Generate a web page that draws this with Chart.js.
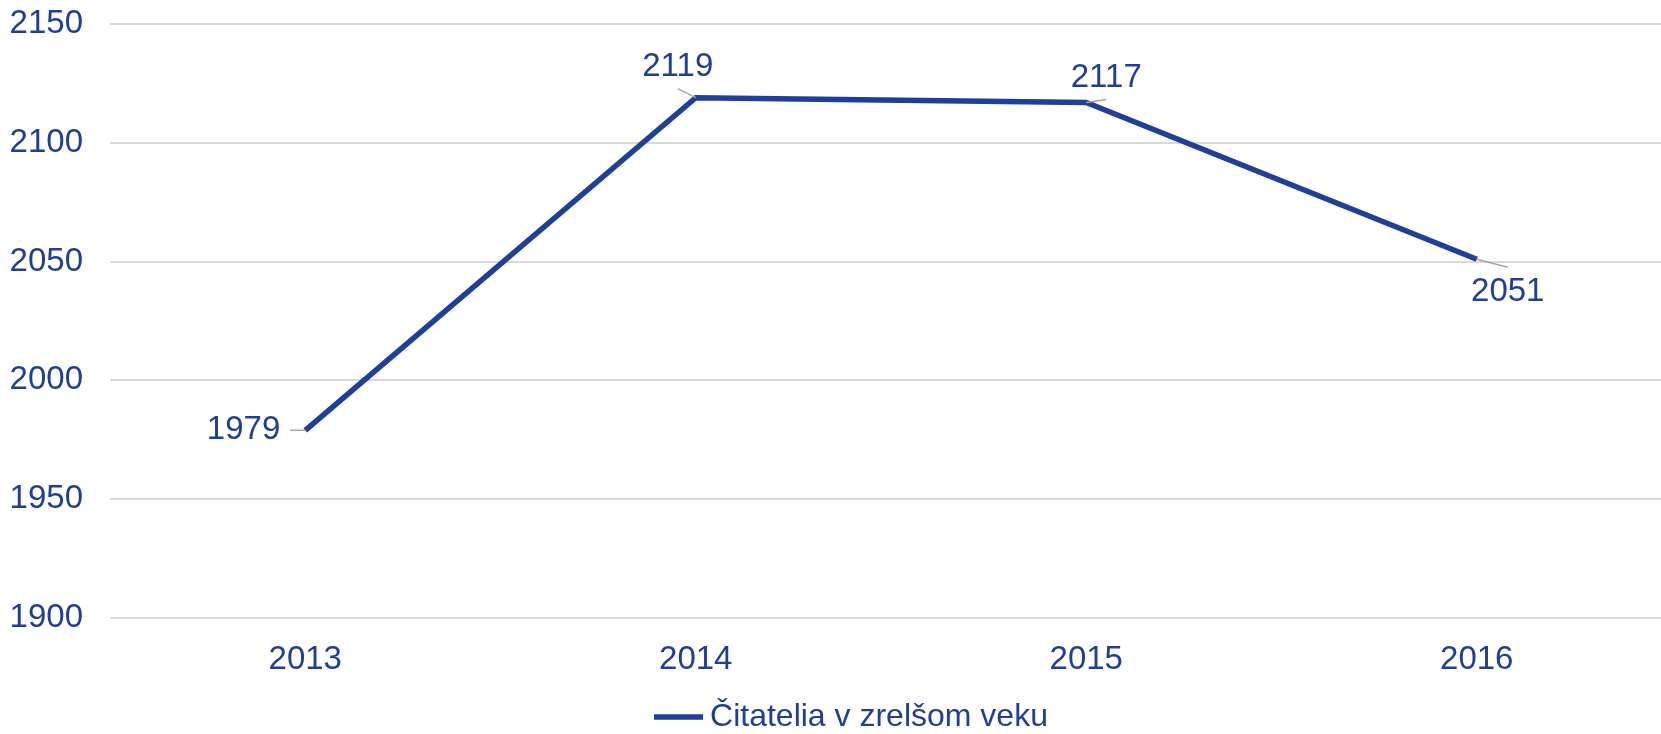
<!DOCTYPE html>
<html>
<head>
<meta charset="utf-8">
<script src="https://cdn.jsdelivr.net/npm/chart.js@4/dist/chart.umd.min.js"></script>
<style>
    html, body { margin: 0; padding: 0; background: #fff; overflow: hidden; }
    #wrap { width: 1661px; height: 734px; position: relative; overflow: hidden; }
</style>
</head>
<body>
<!-- canvas is a little wider than the page: the plot runs past the right edge -->
<div id="wrap"><canvas id="chart" width="1672" height="734"></canvas></div>
<script>
    'use strict';

    const years = ['2013', '2014', '2015', '2016'];
    const readers = [1979, 2119, 2117, 2051];
    const seriesName = 'Čitatelia v zrelšom veku';
    const yTicks = [1900, 1950, 2000, 2050, 2100, 2150];

    // label offsets from the point (dx, dy) and text alignment
    const labelPlacement = [
        { dx: -25, dy: 0, align: 'right', leader: [-15, 0] },
        { dx: -18, dy: -31, align: 'center', leader: [-18, -9] },
        { dx: 20, dy: -25, align: 'center', leader: [20, -3] },
        { dx: 31, dy: 33, align: 'center', leader: [31, 8] }
    ];

    const BLUE = '#1f3f99';
    const TEXT = '#1f3f94';
    const FAMILY = "'Liberation Sans', Arial, sans-serif";
    const FONT = { family: FAMILY, size: 33 };
    const LEGEND_SIZE = 32;

    const pointLabels = {
        id: 'pointLabels',
        afterDatasetsDraw(chart) {
            const ctx = chart.ctx;
            const meta = chart.getDatasetMeta(0);
            ctx.save();
            meta.data.forEach(function(pt, i) {
                const p = labelPlacement[i];
                ctx.strokeStyle = '#a6a6a6';
                ctx.lineWidth = 1.5;
                ctx.beginPath();
                ctx.moveTo(pt.x, pt.y);
                ctx.lineTo(pt.x + p.leader[0], pt.y + p.leader[1]);
                ctx.stroke();

                ctx.fillStyle = TEXT;
                ctx.font = FONT.size + 'px ' + FAMILY;
                ctx.textAlign = p.align;
                ctx.textBaseline = 'middle';
                ctx.fillText(String(readers[i]), pt.x + p.dx, pt.y + p.dy);
            });
            ctx.restore();
        }
    };

    // simple bottom legend: short thick line + series name, tight gap
    const bottomLegend = {
        id: 'bottomLegend',
        afterDraw(chart) {
            const ctx = chart.ctx;
            const ds = chart.data.datasets[0];
            const lineLen = 49, gap = 7;
            ctx.save();
            ctx.font = LEGEND_SIZE + 'px ' + FAMILY;
            const textW = ctx.measureText(ds.label).width;
            const total = lineLen + gap + textW;
            const startX = 851 - total / 2;
            const y = chart.height - 17;

            ctx.strokeStyle = ds.borderColor;
            ctx.lineWidth = 5.5;
            ctx.beginPath();
            ctx.moveTo(startX, y);
            ctx.lineTo(startX + lineLen, y);
            ctx.stroke();

            ctx.fillStyle = TEXT;
            ctx.textAlign = 'left';
            ctx.textBaseline = 'middle';
            ctx.fillText(ds.label, startX + lineLen + gap, y);
            ctx.restore();
        }
    };

    new Chart(document.getElementById('chart'), {
        type: 'line',
        data: {
            labels: years,
            datasets: [{
                label: seriesName,
                data: readers,
                borderColor: BLUE,
                backgroundColor: BLUE,
                borderWidth: 5.5,
                pointRadius: 0,
                tension: 0
            }]
        },
        options: {
            responsive: false,
            animation: false,
            layout: {
                autoPadding: false,
                padding: { top: 24, right: 0, bottom: 35, left: 0 }
            },
            plugins: {
                legend: { display: false },
                tooltip: { enabled: false }
            },
            scales: {
                x: {
                    offset: true,
                    afterFit: function(scale) {
                        scale.height = 81;
                        scale.paddingLeft = 0;
                        scale.paddingRight = 0;
                    },
                    grid: { display: false, drawTicks: false },
                    border: { display: false },
                    ticks: { color: TEXT, font: FONT, padding: 22 }
                },
                y: {
                    min: 1900,
                    max: 2150,
                    afterBuildTicks: function(scale) {
                        scale.ticks = yTicks.map(v => ({ value: v }));
                    },
                    afterFit: function(scale) {
                        scale.width = 110;
                        scale.paddingTop = 0;
                        scale.paddingBottom = 0;
                    },
                    grid: { color: '#d9d9d9', lineWidth: 2, drawTicks: false },
                    border: { display: false },
                    ticks: {
                        color: TEXT,
                        font: FONT,
                        padding: 27,
                        callback: function(value) { return String(value); }
                    }
                }
            }
        },
        plugins: [pointLabels, bottomLegend]
    });
</script>
</body>
</html>
